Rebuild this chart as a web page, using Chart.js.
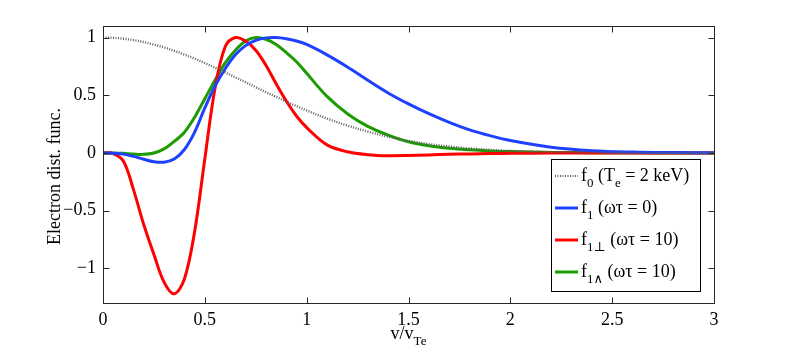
<!DOCTYPE html>
<html>
<head>
<meta charset="utf-8">
<script src="https://cdn.jsdelivr.net/npm/chart.js@4/dist/chart.umd.min.js"></script>
<style>
  html, body { margin: 0; padding: 0; background: #fff; }
  #wrap { width: 789px; height: 351px; }
</style>
</head>
<body>
<div id="wrap"><canvas id="chart" width="789" height="351"></canvas></div>
<script>
// Données (v / v_Te)
const V = [0, 0.05, 0.1, 0.15, 0.2, 0.25, 0.3, 0.35, 0.4, 0.45, 0.5, 0.55, 0.6, 0.65, 0.7, 0.75, 0.8, 0.85, 0.9, 0.95, 1.0,
  1.1, 1.2, 1.3, 1.4, 1.5, 1.6, 1.7, 1.8, 1.9, 2.0,
  2.2, 2.4, 2.6, 2.8, 3.0];

const F0 = [1, 0.998, 0.99, 0.978, 0.961, 0.939, 0.914, 0.885, 0.852, 0.817, 0.779, 0.739, 0.698, 0.655, 0.613, 0.57, 0.527, 0.486, 0.445, 0.406, 0.368,
  0.298, 0.237, 0.185, 0.141, 0.105, 0.077, 0.056, 0.039, 0.027, 0.018,
  0.008, 0.003, 0.001, 0, 0];

const F1 = [0, -0.002, -0.01, -0.03, -0.055, -0.076, -0.08, -0.052, 0.03, 0.18, 0.39, 0.58, 0.73, 0.85, 0.93, 0.975, 0.997, 1.0, 0.99, 0.97, 0.94,
  0.85, 0.745, 0.63, 0.52, 0.425, 0.34, 0.265, 0.2, 0.15, 0.108,
  0.05, 0.02, 0.008, 0.003, 0.001];

const F1_PERP = [0, -0.005, -0.07, -0.32, -0.62, -0.88, -1.12, -1.22, -1.09, -0.68, -0.05, 0.56, 0.92, 1.0, 0.97, 0.89, 0.76, 0.6, 0.45, 0.32, 0.22,
  0.07, 0.01, -0.015, -0.024, -0.022, -0.017, -0.012, -0.008, -0.005, -0.003,
  -0.001, 0, 0, 0, 0];

const F1_WEDGE = [0, 0, -0.003, -0.01, -0.012, 0.0, 0.035, 0.1, 0.18, 0.31, 0.47, 0.63, 0.78, 0.89, 0.97, 1.0, 0.985, 0.94, 0.87, 0.79, 0.69,
  0.49, 0.34, 0.23, 0.155, 0.097, 0.062, 0.04, 0.027, 0.018, 0.012,
  0.005, 0.002, 0.001, 0, 0];

const X_TICKS = [0, 0.5, 1, 1.5, 2, 2.5, 3];
const Y_TICKS = [-1, -0.5, 0, 0.5, 1];

const SERIF = "'Liberation Serif', 'DejaVu Serif', serif";
const COLORS = { f0: '#5e5e5e', f1: '#2040ff', perp: '#ff0000', wedge: '#1c9c00' };

// Légende : morceaux de texte [texte, indice?]
const LEGEND = [
  { color: COLORS.f0, dash: [1, 1.5], width: 2.2, parts: [['f'], ['0', true], [' (T'], ['e', true], [' = 2 keV)']] },
  { color: COLORS.f1, dash: [], width: 3, parts: [['f'], ['1', true], [' (\u03c9\u03c4 = 0)']] },
  { color: COLORS.perp, dash: [], width: 3, parts: [['f'], ['1\u22a5', true], [' (\u03c9\u03c4 = 10)']] },
  { color: COLORS.wedge, dash: [], width: 3, parts: [['f'], ['1\u2227', true], [' (\u03c9\u03c4 = 10)']] }
];

function pts(ys) {
  return V.map((v, i) => ({ x: v, y: ys[i] }));
}

// Écrit un texte avec indices, renvoie la largeur
function drawRich(ctx, parts, x, y, size) {
  let cx = x;
  parts.forEach(([txt, sub]) => {
    ctx.font = (sub ? size * 0.72 : size) + 'px ' + SERIF;
    ctx.fillText(txt, cx, sub ? y + size * 0.34 : y);
    cx += ctx.measureText(txt).width;
  });
  return cx - x;
}

const overlay = {
  id: 'overlay',
  afterDraw(chart) {
    const { ctx, chartArea: a, scales: { x, y } } = chart;
    ctx.save();
    ctx.strokeStyle = '#262626';
    ctx.lineWidth = 1;
    ctx.setLineDash([]);

    // cadre
    const L = Math.round(a.left) + 0.5, R = Math.round(a.right) + 0.5;
    const T = Math.round(a.top) + 0.5, B = Math.round(a.bottom) + 0.5;
    ctx.strokeRect(L, T, R - L, B - T);

    // graduations vers l'intérieur
    ctx.beginPath();
    X_TICKS.forEach(v => {
      const px = Math.round(x.getPixelForValue(v)) + 0.5;
      ctx.moveTo(px, B); ctx.lineTo(px, B - 6);
      ctx.moveTo(px, T); ctx.lineTo(px, T + 6);
    });
    Y_TICKS.forEach(v => {
      const py = Math.round(y.getPixelForValue(v)) + 0.5;
      ctx.moveTo(L, py); ctx.lineTo(L + 6, py);
      ctx.moveTo(R, py); ctx.lineTo(R - 6, py);
    });
    ctx.stroke();

    ctx.fillStyle = '#000';
    ctx.textBaseline = 'alphabetic';

    // titre de l'axe x
    const xParts = [['v/v'], ['Te', true]];
    let w = 0;
    xParts.forEach(([t, s]) => { ctx.font = (s ? 18 * 0.72 : 18) + 'px ' + SERIF; w += ctx.measureText(t).width; });
    drawRich(ctx, xParts, (a.left + a.right) / 2 - w / 2, 339, 18);

    // titre de l'axe y
    ctx.save();
    ctx.translate(60, (a.top + a.bottom) / 2 + 12);
    ctx.rotate(-Math.PI / 2);
    ctx.font = '18px ' + SERIF;
    ctx.textAlign = 'center';
    ctx.fillText('Electron dist. func.', 0, 0);
    ctx.restore();

    // légende
    const bx = 551.5, by = 159.5, bw = 149, bh = 132;
    ctx.fillStyle = '#fff';
    ctx.fillRect(bx, by, bw, bh);
    ctx.strokeStyle = '#000';
    ctx.strokeRect(bx, by, bw, bh);
    LEGEND.forEach((item, i) => {
      const ry = 176 + i * 32;
      ctx.beginPath();
      ctx.strokeStyle = item.color;
      ctx.lineWidth = item.width;
      ctx.setLineDash(item.dash);
      ctx.moveTo(555, ry);
      ctx.lineTo(578, ry);
      ctx.stroke();
      ctx.setLineDash([]);
      ctx.fillStyle = '#000';
      drawRich(ctx, item.parts, 581, ry + 5, 18);
    });
    ctx.restore();
  }
};

function makeDataset(label, ys, color, width, dash) {
  return {
    label: label,
    data: pts(ys),
    borderColor: color,
    borderWidth: width,
    borderDash: dash,
    pointRadius: 0,
    fill: false,
    tension: 0.35
  };
}

new Chart(document.getElementById('chart'), {
  type: 'line',
  data: {
    datasets: [
      makeDataset('f0', F0, COLORS.f0, 2.4, [1, 1.5]),
      makeDataset('f1', F1, COLORS.f1, 3, []),
      makeDataset('f1perp', F1_PERP, COLORS.perp, 3, []),
      makeDataset('f1wedge', F1_WEDGE, COLORS.wedge, 3, [])
    ]
  },
  options: {
    responsive: false,
    animation: false,
    devicePixelRatio: 1,
    layout: { padding: { left: 0, top: 26, right: 75, bottom: 0 } },
    plugins: {
      legend: { display: false },
      tooltip: { enabled: false },
      title: { display: false }
    },
    scales: {
      x: {
        type: 'linear',
        min: 0,
        max: 3,
        grid: { display: false, drawTicks: false },
        border: { display: false },
        afterBuildTicks: axis => { axis.ticks = X_TICKS.map(v => ({ value: v })); },
        afterFit: axis => { axis.height = 48; },
        ticks: {
          padding: 6,
          maxRotation: 0,
          color: '#000',
          font: { family: SERIF, size: 18 },
          callback: v => String(v)
        }
      },
      y: {
        type: 'linear',
        min: -1.3,
        max: 1.1,
        grid: { display: false, drawTicks: false },
        border: { display: false },
        afterBuildTicks: axis => { axis.ticks = Y_TICKS.map(v => ({ value: v })); },
        afterFit: axis => { axis.width = 103; },
        ticks: {
          padding: 7,
          color: '#000',
          font: { family: SERIF, size: 18 },
          callback: v => String(v).replace('-', '\u2212')
        }
      }
    }
  },
  plugins: [overlay]
});
</script>
</body>
</html>
